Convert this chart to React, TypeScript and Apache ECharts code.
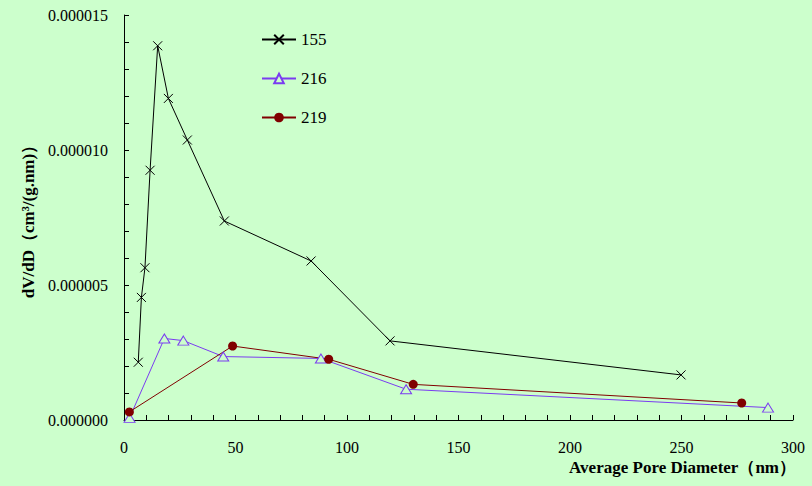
import React, { useEffect, useRef } from "react";
import * as echarts from "echarts";

const xTicks = [0, 50, 100, 150, 200, 250, 300];
const yTicks = [0, 0.000005, 0.00001, 0.000015];

const s155x = [6.4, 7.8, 9.4, 11.7, 15.1, 19.9, 28.4, 45.0, 83.9, 119.3, 249.8];
const s155y = [2.14e-6, 4.54e-6, 5.64e-6, 9.25e-6, 13.86e-6, 11.91e-6, 10.37e-6, 7.37e-6, 5.89e-6, 2.93e-6, 1.67e-6];

const s216x = [2.5, 18.1, 26.6, 44.5, 88.3, 126.5, 288.8];
const s216y = [0.08e-6, 3.02e-6, 2.94e-6, 2.35e-6, 2.28e-6, 1.14e-6, 0.46e-6];

const s219x = [2.4, 48.7, 91.8, 129.7, 277.0];
const s219y = [0.3e-6, 2.74e-6, 2.25e-6, 1.32e-6, 0.63e-6];

const seriesNames = ["155", "216", "219"];

const zip = (xs: number[], ys: number[]) => xs.map((x, i) => [x, ys[i]]);

const BG = "#CCFFCC";
const FONT = "Liberation Serif";

export default function App() {
  const ref = useRef<HTMLDivElement>(null);
  useEffect(() => {
    if (!ref.current) return;
    const chart = echarts.init(ref.current, undefined, { renderer: "svg" });
    const isMajor = (v: number, list: number[], eps: number) => list.some((t) => Math.abs(t - v) < eps);
    chart.setOption({
      animation: false,
      backgroundColor: BG,
      textStyle: { fontFamily: FONT },
      grid: { left: 124, right: 19, top: 15, bottom: 66, containLabel: false },
      legend: {
        orient: "vertical",
        left: 256,
        top: 26,
        itemWidth: 34,
        itemHeight: 12,
        itemGap: 22,
        textStyle: { fontFamily: FONT, fontSize: 17, color: "#000" },
        data: seriesNames,
      },
      xAxis: {
        type: "value",
        min: 0,
        max: 300,
        interval: 10,
        axisLine: { show: true, lineStyle: { color: "#000", width: 1 } },
        axisTick: { show: true, inside: true, length: 5, lineStyle: { color: "#000" } },
        splitLine: { show: false },
        axisLabel: {
          margin: 19,
          fontFamily: FONT,
          fontSize: 16,
          color: "#000",
          formatter: (v: number) => (isMajor(v, xTicks, 1e-6) ? String(Math.round(v)) : ""),
        },
      },
      yAxis: {
        type: "value",
        min: 0,
        max: 0.000015,
        interval: 0.000001,
        name: "dV/dD（cm³/(g.nm)）",
        nameLocation: "middle",
        nameGap: 84,
        nameTextStyle: { fontFamily: FONT, fontSize: 17, fontWeight: "bold", color: "#000" },
        axisLine: { show: true, lineStyle: { color: "#000", width: 1 } },
        axisTick: { show: true, inside: true, length: 5, lineStyle: { color: "#000" } },
        splitLine: { show: false },
        axisLabel: {
          margin: 16,
          fontFamily: FONT,
          fontSize: 16,
          color: "#000",
          formatter: (v: number) => (isMajor(v, yTicks, 1e-9) ? v.toFixed(6) : ""),
        },
      },
      graphic: [
        {
          type: "text",
          right: 16,
          top: 459,
          style: {
            text: "Average Pore Diameter（nm）",
            fontFamily: FONT,
            fontSize: 17,
            fontWeight: "bold",
            fill: "#000",
          },
        },
      ],
      series: [
        {
          name: "155",
          type: "line",
          data: zip(s155x, s155y),
          symbol: "path://M0 0L10 10M10 0L0 10",
          symbolSize: 9,
          lineStyle: { color: "#000", width: 1 },
          itemStyle: { color: "#000", borderColor: "#000", borderWidth: 1 },
          z: 3,
        },
        {
          name: "216",
          type: "line",
          data: zip(s216x, s216y),
          symbol: "triangle",
          symbolSize: [11, 9],
          lineStyle: { color: "#7A3CF0", width: 1 },
          itemStyle: { color: BG, borderColor: "#7A3CF0", borderWidth: 1 },
          z: 2,
        },
        {
          name: "219",
          type: "line",
          data: zip(s219x, s219y),
          symbol: "circle",
          symbolSize: 9,
          lineStyle: { color: "#800000", width: 1 },
          itemStyle: { color: "#800000", borderColor: "#800000", borderWidth: 0 },
          z: 2,
        },
      ],
    });
    return () => chart.dispose();
  }, []);
  return (
    <div
      ref={ref}
      style={{ position: "absolute", left: 0, top: 0, width: 812, height: 486 }}
    />
  );
}
